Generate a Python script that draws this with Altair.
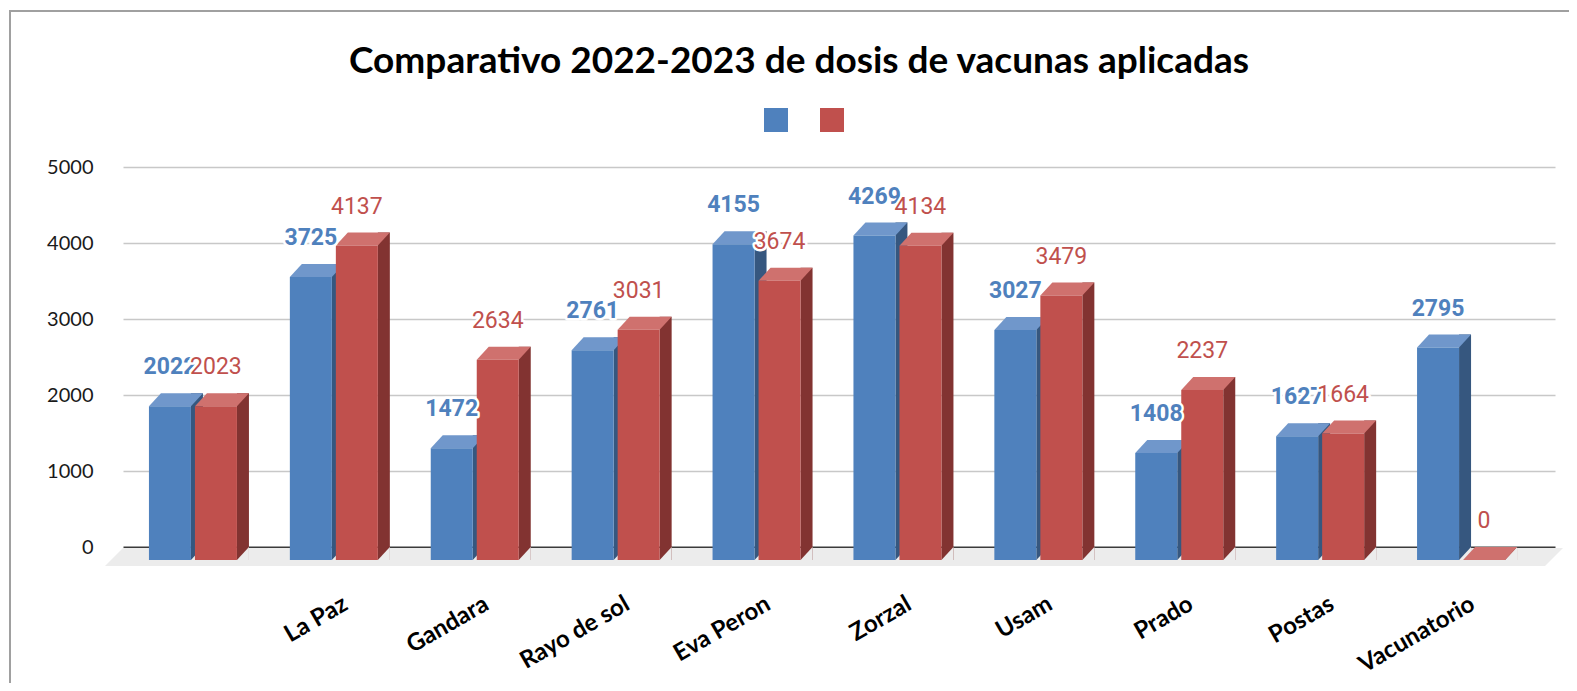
import altair as alt
import pandas as pd

# ---- data ----
categories = [" ", "La Paz", "Gandara", "Rayo de sol", "Eva Peron", "Zorzal",
              "Usam", "Prado", "Postas", "Vacunatorio"]
values_2022 = [2022, 3725, 1472, 2761, 4155, 4269, 3027, 1408, 1627, 2795]
values_2023 = [2023, 4137, 2634, 3031, 3674, 4134, 3479, 2237, 1664, 0]
series_names = ["2022", "2023"]
y_ticks = [0, 1000, 2000, 3000, 4000, 5000]
title_text = "Comparativo 2022-2023 de dosis de vacunas aplicadas"

rows = []
for s, vals in zip(series_names, [values_2022, values_2023]):
    for c, v in zip(categories, vals):
        rows.append({"cat": c, "series": s, "value": v, "zero": 0})
df = pd.DataFrame(rows)
deco = pd.DataFrame({"t": [title_text]})

# ---- style ----
W, H = 1432, 380
BAR_W = 42
DX, DY = 12, 13
FLOOR = "#ececec"
style = {
    "2022": dict(fx=-35, front="#4f81bd", top="#7097cb", side="#36577f", weight="bold"),
    "2023": dict(fx=11, front="#c0504d", top="#cf716e", side="#823331", weight="normal"),
}

x_enc = alt.X(
    "cat:N", sort=categories,
    scale=alt.Scale(paddingInner=0, paddingOuter=0.0816),
    axis=alt.Axis(title=None, domain=False, ticks=False, grid=False,
                  labelAngle=330, labelAlign="right", labelBaseline="middle",
                  labelFont="Lato", labelFontSize=24, labelFontWeight="bold",
                  labelColor="#000000", labelPadding=55, labelLimit=300),
)
y_axis = alt.Axis(
    title=None, values=y_ticks, format="d", domain=False, ticks=False,
    labelFont="Lato", labelFontSize=20, labelColor="#1a1a1a", labelPadding=30,
    gridColor={"condition": {"test": "datum.value === 0", "value": "#3a3a3a"}, "value": "#c8c8c8"},
    gridWidth={"condition": {"test": "datum.value === 0", "value": 2.2}, "value": 1.5},
)
y_scale = alt.Scale(domain=[0, 5000], nice=False)
y_enc = alt.Y("value:Q", scale=y_scale, axis=y_axis, stack=None)
y_zero = alt.Y("zero:Q", scale=y_scale, axis=y_axis, stack=None)

color_enc = alt.Color(
    "series:N",
    scale=alt.Scale(domain=series_names, range=[style[s]["front"] for s in series_names]),
    legend=alt.Legend(orient="none", legendX=641, legendY=-59, direction="horizontal",
                      title=None, symbolType="square", symbolSize=576, symbolStrokeWidth=0,
                      labelExpr="''", labelOffset=0, columnPadding=32, padding=0),
)

base = alt.Chart(df)

border = alt.Chart(deco).mark_rect(fillOpacity=0, stroke="#a0a0a0", strokeWidth=2).encode(
    x=alt.value(-113), y=alt.value(-156), x2=alt.value(3000), y2=alt.value(3000))

floor = alt.Chart(deco).mark_point(
    shape="M0,0L1440,0L1422,18L-18,18Z", size=4, filled=True, opacity=1, color=FLOOR
).encode(x=alt.value(0), y=alt.value(H + 1))

box_layers = []
label_layers = []
for s in series_names:
    st = style[s]
    fx = st["fx"]
    f = base.transform_filter(alt.datum.series == s)
    side = f.mark_bar(width=DX, xOffset=fx + BAR_W / 2 + DX / 2, y2Offset=DY,
                      color=st["side"]).encode(x=x_enc, y=y_enc, y2="zero:Q")
    cover = f.mark_point(shape="M21,0L33,0L33,-13Z", size=4, filled=True, opacity=1,
                         color=FLOOR, xOffset=fx, yOffset=DY).encode(x=x_enc, y=y_zero)
    top = f.mark_point(shape="M-21,0L21,0L33,-13L-9,-13Z", size=4, filled=True, opacity=1,
                       color=st["top"], xOffset=fx, yOffset=DY).encode(x=x_enc, y=y_enc)
    front = f.mark_bar(width=BAR_W, xOffset=fx, yOffset=DY, y2Offset=DY).encode(
        x=x_enc, y=y_enc, y2="zero:Q", color=color_enc)
    box_layers += [side, cover, top, front]

    halo = f.mark_text(font="Roboto", fontSize=23, fontWeight=st["weight"], dx=fx, dy=-26,
                       baseline="middle", align="center", fill="white", stroke="white",
                       strokeWidth=5, strokeJoin="round").encode(x=x_enc, y=y_enc, text="value:Q")
    txt = f.mark_text(font="Roboto", fontSize=23, fontWeight=st["weight"], dx=fx, dy=-26,
                      baseline="middle", align="center", color=st["front"]).encode(
        x=x_enc, y=y_enc, text="value:Q")
    label_layers += [halo, txt]

title = alt.Chart(deco).mark_text(font="Lato", fontSize=37, fontWeight="bold", color="#000000",
                                  align="center", baseline="middle").encode(
    x=alt.value(676), y=alt.value(-105), text="t:N")

chart = alt.layer(border, floor, *box_layers, *label_layers, title).properties(
    width=W, height=H,
    autosize=alt.AutoSizeParams(type="none"),
    padding={"left": 115, "top": 159, "right": 14, "bottom": 136},
    background="white",
).configure_view(stroke=None)

chart.save("out.html", embed_options={"renderer": "svg", "actions": False})
